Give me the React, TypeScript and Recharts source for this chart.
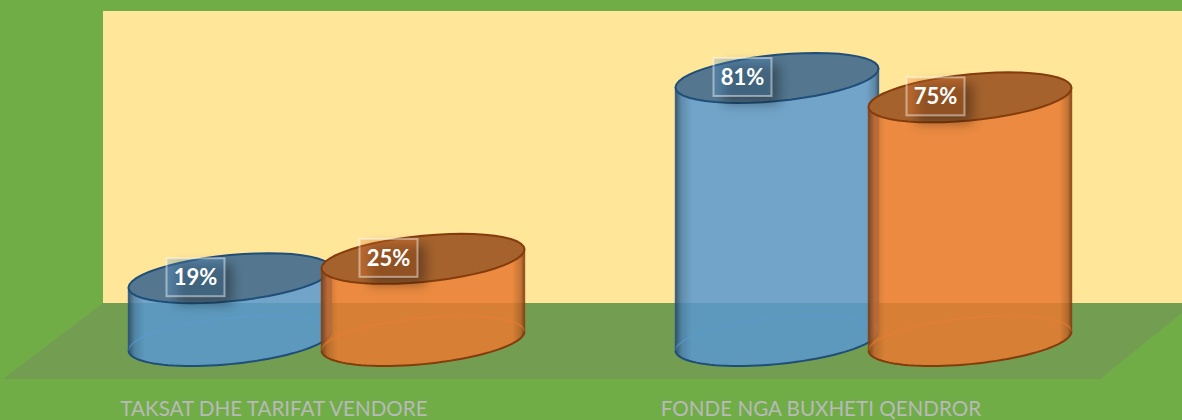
import { BarChart, Bar, XAxis, YAxis, LabelList } from 'recharts';

const CATEGORIES = ['TAKSAT DHE TARIFAT VENDORE', 'FONDE NGA BUXHETI QENDROR'];
const BLUE_VALUES = [19, 81];
const ORANGE_VALUES = [25, 75];

const chartData = CATEGORIES.map((name, i) => ({ name, blue: BLUE_VALUES[i], orange: ORANGE_VALUES[i] }));

const W = 1182;
const H = 420;
const RY = 25; // half height of the tilted cap
const TILT = 9.5; // how far the left rim sits below the centre
const FONT = 'Lato, Carlito, sans-serif';

const BLUE = { fill: '#5B9BD5', line: '#1F4E79', top: '#54778F' };
const ORANGE = { fill: '#ED7D31', line: '#843C0C', top: '#A5622D' };

// walks the tilted ellipse between two angles
const arc = (cx: number, cy: number, rx: number, from: number, to: number) => {
  const e = Math.sqrt(RY * RY - TILT * TILT);
  const pts: string[] = [];
  const steps = 48;
  for (let i = 0; i <= steps; i++) {
    const t = from + ((to - from) * i) / steps;
    pts.push(`${(cx + rx * Math.cos(t)).toFixed(2)} ${(cy - TILT * Math.cos(t) + e * Math.sin(t)).toFixed(2)}`);
  }
  return pts;
};

const toPath = (pts: string[]) => pts.map((p, i) => (i === 0 ? `M${p}` : `L${p}`)).join(' ');

const Cylinder = (props: any) => {
  const { x, y, width, height, colors, gid } = props;
  if (width == null) return null;
  const cx = x + width / 2;
  const rx = width / 2;
  const base = y + height + 1.4;
  const sidePath = toPath([...arc(cx, y, rx, Math.PI, 0), ...arc(cx, base, rx, 0, Math.PI)]) + ' Z';
  const capPath = toPath(arc(cx, y, rx, 0, Math.PI * 2)) + ' Z';
  const rearRim = toPath(arc(cx, base, rx, Math.PI, Math.PI * 2));
  const frontRim = toPath(arc(cx, base, rx, 0, Math.PI));
  const wallL = arc(cx, y, rx, Math.PI, Math.PI)[0];
  const wallLB = arc(cx, base, rx, Math.PI, Math.PI)[0];
  const wallR = arc(cx, y, rx, 0, 0)[0];
  const wallRB = arc(cx, base, rx, 0, 0)[0];
  return (
    <g>
      <defs>
        <linearGradient id={gid} x1="0" y1="0" x2="1" y2="0">
          <stop offset="0" stopColor="#000" stopOpacity={0.45} />
          <stop offset="0.03" stopColor="#000" stopOpacity={0.16} />
          <stop offset="0.08" stopColor="#000" stopOpacity={0.02} />
          <stop offset="0.94" stopColor="#000" stopOpacity={0.02} />
          <stop offset="0.98" stopColor="#000" stopOpacity={0.18} />
          <stop offset="1" stopColor="#000" stopOpacity={0.42} />
        </linearGradient>
      </defs>
      <path d={sidePath} fill={colors.fill} fillOpacity={0.85} />
      <path d={sidePath} fill={`url(#${gid})`} />
      <path d={rearRim} fill="none" stroke={colors.fill} strokeOpacity={0.6} strokeWidth={1.5} />
      <path d={frontRim} fill="none" stroke={colors.line} strokeWidth={2} />
      <path d={`M${wallL} L${wallLB}`} stroke={colors.line} strokeWidth={1.5} strokeOpacity={0.7} />
      <path d={`M${wallR} L${wallRB}`} stroke={colors.line} strokeWidth={1.5} strokeOpacity={0.7} />
      <path d={capPath} fill={colors.top} stroke={colors.line} strokeWidth={2} />
    </g>
  );
};

const ValueBox = (props: any) => {
  const { x, y, value, colors } = props;
  const bx = x + 67 - 29;
  const by = y - 20;
  return (
    <g>
      <rect x={bx + 10} y={by + 6} width={56} height={40} fill="#000" fillOpacity={0.34} filter="url(#labelShadow)" />
      <rect x={bx} y={by} width={58} height={38} fill={colors.fill} fillOpacity={0.28} stroke="#fff" strokeOpacity={0.45} strokeWidth={2} />
      <text x={bx + 29} y={by + 27} textAnchor="middle" fontFamily={FONT} fontWeight={700} fontSize={22} fill="#fff">
        {value}%
      </text>
    </g>
  );
};

const CategoryTick = ({ x, y, payload }: any) => (
  <text x={x - 52} y={y + 68} textAnchor="middle" fontFamily={FONT} fontSize={20.6} fill="#B9B9B9">
    {payload.value}
  </text>
);

// wall and floor of the 3D box, behind the chart
const Backdrop = () => (
  <svg width={W} height={H} style={{ position: 'absolute', left: 0, top: 0 }}>
    <rect width={W} height={H} fill="#70AD47" />
    <rect x={103} y={11} width={W - 103} height={292} fill="#FFE699" />
    <polygon points={`103,303 ${W},303 ${W},313 1100,379 3,379`} fill="#739E52" />
    <defs>
      <filter id="labelShadow" x="-40%" y="-40%" width="180%" height="180%">
        <feGaussianBlur stdDeviation="6" />
      </filter>
    </defs>
  </svg>
);

export default function App() {
  return (
    <div style={{ position: 'absolute', left: 0, top: 0, width: W, height: H, overflow: 'hidden' }}>
      <Backdrop />
      <div style={{ position: 'absolute', left: 0, top: 0 }}>
        <BarChart
          width={W}
          height={H}
          data={chartData}
          barSize={203}
          barGap={-10}
          margin={{ top: 16.6, right: 35.5, bottom: 0, left: 52.5 }}
        >
          <XAxis dataKey="name" height={80.4} axisLine={false} tickLine={false} interval={0} tick={<CategoryTick />} />
          <YAxis hide domain={[0, 100]} />
          <Bar
            dataKey="blue"
            isAnimationActive={false}
            shape={(p: any) => <Cylinder {...p} colors={BLUE} gid={`side-blue-${p.index}`} />}
          >
            <LabelList dataKey="blue" content={(p: any) => <ValueBox {...p} colors={BLUE} />} />
          </Bar>
          <Bar
            dataKey="orange"
            isAnimationActive={false}
            shape={(p: any) => <Cylinder {...p} colors={ORANGE} gid={`side-orange-${p.index}`} />}
          >
            <LabelList dataKey="orange" content={(p: any) => <ValueBox {...p} colors={ORANGE} />} />
          </Bar>
        </BarChart>
      </div>
    </div>
  );
}
